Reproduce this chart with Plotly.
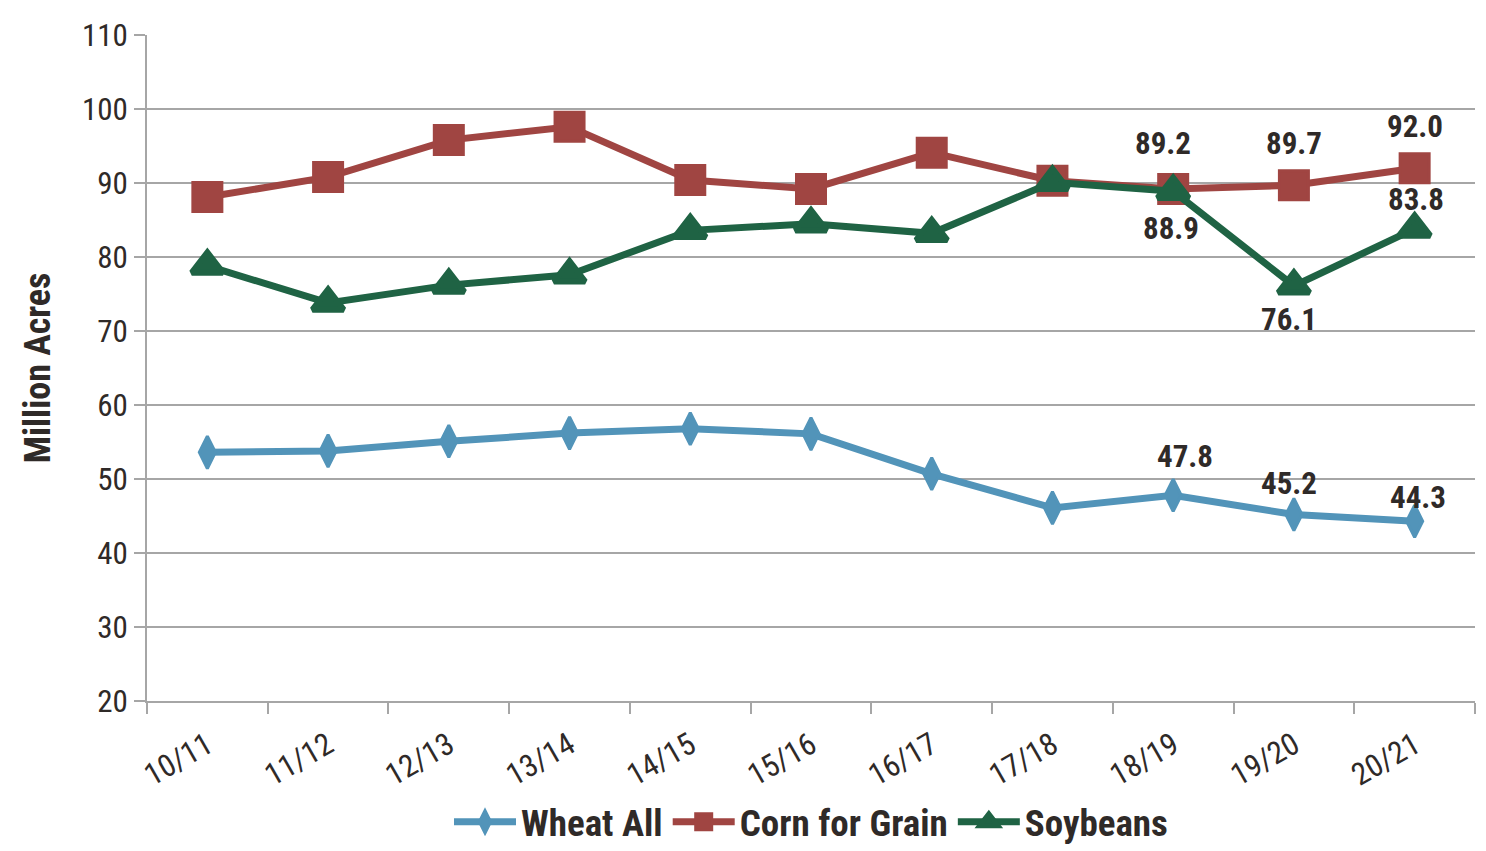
import plotly.graph_objects as go

# Marketing years
seasons = ["10/11", "11/12", "12/13", "13/14", "14/15", "15/16",
           "16/17", "17/18", "18/19", "19/20", "20/21"]

# Planted area, million acres
wheat_all = [53.6, 53.8, 55.1, 56.2, 56.8, 56.1, 50.7, 46.1, 47.8, 45.2, 44.3]
corn_for_grain = [88.1, 90.8, 95.8, 97.6, 90.4, 89.2, 94.1, 90.3, 89.2, 89.7, 92.0]
soybeans = [78.8, 73.8, 76.2, 77.6, 83.6, 84.5, 83.2, 90.1, 88.9, 76.1, 83.8]

y_ticks = [20, 30, 40, 50, 60, 70, 80, 90, 100, 110]

FONT = "Roboto Condensed, Liberation Sans Narrow, DejaVu Sans Condensed, sans-serif"
TEXT = "#2f2a28"
GRID = "#a6a6a6"

# name, values, colour, symbol, size, outline width
series = [
    ("Wheat All", wheat_all, "#5294b9", "diamond-tall", 23, 3),
    ("Corn for Grain", corn_for_grain, "#a04542", "square", 29, 3),
    ("Soybeans", soybeans, "#1f6344", "triangle-up", 27, 6),
]

fig = go.Figure()
for name, values, color, symbol, size, edge in series:
    fig.add_trace(go.Scatter(
        x=seasons, y=values, name=name, mode="lines+markers",
        line=dict(color=color, width=7),
        marker=dict(symbol=symbol, size=size, color=color,
                    line=dict(width=edge, color=color)),
    ))

# Value labels on the last three seasons: (values, index, x shift, y shift)
label_specs = [
    (wheat_all, 8, 12, 39), (wheat_all, 9, -5, 31), (wheat_all, 10, 3, 24),
    (corn_for_grain, 8, -10, 45), (corn_for_grain, 9, 0, 42), (corn_for_grain, 10, 0, 42),
    (soybeans, 8, -2, -37), (soybeans, 9, -5, -34), (soybeans, 10, 1, 29),
]
for values, i, dx, dy in label_specs:
    fig.add_annotation(
        x=seasons[i], y=values[i], text=f"{values[i]:.1f}", showarrow=False,
        xshift=dx, yshift=dy,
        font=dict(family=FONT, size=31, color=TEXT, weight="bold"),
    )

fig.update_layout(
    width=1486, height=851,
    margin=dict(l=147, r=11, t=35, b=150, autoexpand=False),
    paper_bgcolor="white", plot_bgcolor="white",
    font=dict(family=FONT, color=TEXT, size=30),
    showlegend=True,
    legend=dict(orientation="h", x=0.5, xanchor="center", y=-0.182, yanchor="middle",
                font=dict(family=FONT, size=37, color=TEXT, weight="bold"),
                itemwidth=62, tracegroupgap=0, itemsizing="trace"),
)
fig.update_xaxes(
    type="category", tickson="boundaries", ticks="outside", ticklen=11,
    tickcolor=GRID, tickwidth=2, showline=True, linecolor=GRID, linewidth=2,
    showgrid=False, tickangle=-30, range=[-0.5, len(seasons) - 0.5],
    ticklabelstandoff=12, automargin=False,
    tickfont=dict(family=FONT, size=31, color=TEXT),
)
fig.update_yaxes(
    range=[20, 110], tickvals=y_ticks, ticks="outside", ticklen=11,
    tickcolor=GRID, tickwidth=2, showline=True, linecolor=GRID, linewidth=2,
    showgrid=True, gridcolor=GRID, gridwidth=2, zeroline=False, automargin=False,
    tickfont=dict(family=FONT, size=31, color=TEXT),
    title=dict(text="Million Acres", standoff=20,
               font=dict(family=FONT, size=36, color=TEXT, weight="bold")),
)

fig.write_html("out.html")
